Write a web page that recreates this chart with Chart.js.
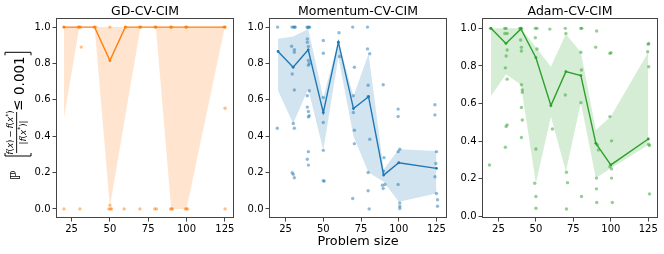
<!DOCTYPE html>
<html>
<head>
<meta charset="utf-8">
<script src="https://cdn.jsdelivr.net/npm/chart.js@4.4.0/dist/chart.umd.min.js"></script>
<style>
  body { margin: 0; background: #fff; width: 664px; height: 254px; position: relative; overflow: hidden; }
  canvas { position: absolute; top: 0; }
</style>
</head>
<body>
<canvas id="gd" style="left:0" width="240" height="254"></canvas>
<canvas id="mom" style="left:240px" width="212" height="254"></canvas>
<canvas id="adam" style="left:452px" width="212" height="254"></canvas>
<script>
// problem sizes where the mean / band is computed
const sizes = [20, 30, 40, 50, 60, 70, 80, 90, 100, 125];
const xTicks = [25, 50, 75, 100, 125];
const yTicks = [0, 0.2, 0.4, 0.6, 0.8, 1.0];

// GD-CV-CIM
const gdMean = [1, 1, 1, 0.816, 1, 1, 1, 1, 1, 1];
const gdLow  = [0.5, 1, 1, 0.01, 0.51, 1, 1, 0, 0, 1];
const gdHigh = [1, 1, 1, 1, 1, 1, 1, 1, 1, 1];
const gdPtsX = [20, 29.3, 30, 30.9, 39.6, 40.9, 50, 60.4, 69.1, 70, 79.3, 80, 89.6, 90.2, 99.3, 100, 124.3, 125.2,
                20, 30.4, 49.3, 50.4, 51, 59.3, 69.6, 79.3, 80.4, 89.6, 90.2, 90.9, 99.3, 100, 100.7, 125.2,
                31.3, 50, 125.2];
const gdPtsY = [1, 1, 1, 1, 1, 1, 1, 1, 1, 1, 1, 1, 1, 1, 1, 1, 1, 1,
                0, 0, 0, 0, 0, 0, 0, 0, 0, 0, 0, 0, 0, 0, 0, 0,
                0.89, 0.02, 0.554];

// Momentum-CV-CIM
const momMean = [0.866, 0.779, 0.875, 0.53, 0.917, 0.552, 0.617, 0.186, 0.254, 0.223];
const momLow  = [0.65, 0.47, 0.66, 0.322, 0.834, 0.40, 0.20, 0.15, 0.039, 0.085];
const momHigh = [0.936, 0.948, 0.99, 0.613, 0.926, 0.62, 0.853, 0.217, 0.328, 0.318];
const momPtsX = [19.7, 29.2, 30.3, 30.9, 31.4, 39.2, 40.3, 41, 39.8,
                 29, 30.8, 30.8, 39.4, 39.4, 40.1, 40.1, 40.7, 40.1,
                 50, 50, 60.4, 60.8, 69.5, 70.6,
                 29.4, 30.8, 39.4, 40.7, 39.4, 40.1, 40.7, 40.1,
                 50, 50, 30.1, 30.8, 19.5,
                 40.1, 39.4, 40.1, 50,
                 29.4, 30.1, 30.8, 50, 50.6,
                 69.9, 69.9, 70.6, 70.6, 69.5,
                 79.3, 79.3, 80.8, 79.7, 79.7, 80.8, 79.7, 79.7, 80.4,
                 89.7, 90.2, 89.9, 90.9, 89.2, 89.7,
                 99.6, 99.6, 99.6, 100.7, 99.6, 100.7, 100.7, 100.7,
                 124, 124, 125, 124.6, 124, 125, 125.7, 125.7];
const momPtsY = [1, 1, 1, 1, 1, 1, 1, 1, 0.997,
                 0.895, 0.875, 0.862, 0.935, 0.917, 0.893, 0.816, 0.80, 0.79,
                 0.926, 0.856, 0.969, 0.838, 1, 0.779,
                 0.742, 0.654, 0.622, 0.65, 0.56, 0.536, 0.512, 0.506,
                 0.613, 0.475, 0.47, 0.444, 0.444,
                 0.315, 0.273, 0.241, 0.322,
                 0.199, 0.19, 0.171, 0.155, 0.153,
                 0.622, 0.53, 0.433, 0.359, 0.057,
                 1, 0.88, 0.853, 0.68, 0.617, 0.383, 0.2, 0.1, 0,
                 0.683, 0.282, 0.208, 0.134, 0.13, 0.112,
                 0.549, 0.508, 0.315, 0.328, 0.134, 0.033, 0.015, 0.002,
                 0.573, 0.517, 0.315, 0.25, 0.177, 0.085, 0.05, 0.015];

// Adam-CV-CIM
const adamMean = [1, 0.92, 0.997, 0.844, 0.59, 0.77, 0.749, 0.389, 0.274, 0.412];
const adamLow  = [0.64, 0.756, 0.70, 0.177, 0.53, 0.239, 0.605, 0.204, 0.257, 0.38];
const adamHigh = [1, 1, 1, 0.90, 0.796, 0.97, 0.873, 0.46, 0.531, 0.873];
const adamPtsX = [19, 19.7, 29.2, 30.1, 29.2, 30.8, 30.8, 30.1, 29.6, 30.8,
                  30.1, 30.8, 29.6,
                  39.2, 39.8, 40.3, 39.8, 40.3, 40.3,
                  40.3, 40.9, 40.9, 40.3, 40.9, 40.3,
                  49.6, 50.7, 49.6, 50.7, 50, 49.2, 50, 50,
                  59.3, 61,
                  69.6, 70, 69.6, 70.4, 71.1, 70.4,
                  80, 80.6, 80, 80.4, 80, 80.4,
                  90.6, 89.9, 91, 91.7, 90.4, 90.4, 90.6,
                  99.4, 100.1, 99.4, 100.5, 99.4, 100.5, 100.5, 101,
                  124.9, 125.3, 124.6, 125.3, 125.3, 125.8, 125.8];
const adamPtsY = [0.274, 1, 1, 1, 0.973, 0.973, 0.885, 0.853, 0.79, 0.73,
                  0.478, 0.487, 0.368,
                  1, 1, 1, 0.938, 0.899, 0.88,
                  0.70, 0.673, 0.66, 0.579, 0.513, 0.42,
                  1, 1, 0.95, 0.89, 0.359, 0.177, 0.106, 0.044,
                  0.996, 0.465,
                  1, 0.973, 0.646, 0.235, 0.18, 0.04,
                  1, 1, 0.873, 0.779, 0.605, 0.106,
                  0.986, 0.9, 0.38, 0.354, 0.204, 0.147, 0.074,
                  0.867, 0.87, 0.531, 0.402, 0.265, 0.253, 0.204, 0.074,
                  0.915, 0.92, 0.876, 0.796, 0.384, 0.377, 0.12];

Chart.defaults.font.family = '"DejaVu Sans"';
Chart.defaults.color = '#000';

const frame = {
  id: 'frame',
  afterDraw(chart) {
    const a = chart.chartArea, ctx = chart.ctx;
    ctx.save();
    ctx.strokeStyle = '#444';
    ctx.lineWidth = 1;
    ctx.strokeRect(Math.round(a.left) + 0.5, Math.round(a.top) + 0.5,
                   Math.round(a.right - a.left) - 1, Math.round(a.bottom - a.top) - 1);
    ctx.restore();
  }
};

function drawRun(ctx, segs, cx, by, size) {
  const fonts = segs.map(s => (s.i ? 'italic ' : '') + (s.sup ? size * 0.7 : size) + 'px "DejaVu Sans"');
  let w = 0;
  const ws = segs.map((s, k) => { ctx.font = fonts[k]; const m = ctx.measureText(s.t).width; w += m; return m; });
  let x = cx - w / 2;
  segs.forEach((s, k) => {
    ctx.font = fonts[k];
    ctx.fillText(s.t, x, by - (s.sup ? size * 0.4 : 0));
    x += ws[k];
  });
}

// rotated math y-label on the first panel
const yLabel = {
  id: 'ylabel',
  afterDraw(chart) {
    const ctx = chart.ctx;
    ctx.save();
    ctx.translate(16.7, 183);
    ctx.rotate(-Math.PI / 2);
    ctx.fillStyle = '#000';
    ctx.strokeStyle = '#000';
    ctx.textBaseline = 'alphabetic';
    ctx.font = 'italic 14px "DejaVu Sans"';
    ctx.fillText('ℙ', 3, 3.3);
    ctx.lineWidth = 1;
    ctx.beginPath();
    ctx.moveTo(30, -11.7); ctx.lineTo(27, -11.7); ctx.lineTo(27, 14.3); ctx.lineTo(30, 14.3);
    ctx.stroke();
    const num = [{t: 'f', i: 1}, {t: '('}, {t: 'x', i: 1}, {t: ')'}, {t: '\u2009−\u2009'},
                 {t: 'f', i: 1}, {t: '('}, {t: 'x', i: 1}, {t: '*', sup: 1}, {t: ')'}];
    const den = [{t: '|'}, {t: 'f', i: 1}, {t: '('}, {t: 'x', i: 1}, {t: '*', sup: 1}, {t: ')'}, {t: '|'}];
    drawRun(ctx, num, 50.5, -3.5, 8.8);
    drawRun(ctx, den, 50.5, 9.3, 8.8);
    ctx.fillRect(30, -0.5, 41, 0.9);
    ctx.font = '13.5px "DejaVu Sans"';
    ctx.fillText('≤', 72, 5);
    ctx.fillText('0.001', 88, 7.3);
    ctx.beginPath();
    ctx.moveTo(127.7, -11.7); ctx.lineTo(130.7, -11.7); ctx.lineTo(130.7, 14.3); ctx.lineTo(127.7, 14.3);
    ctx.stroke();
    ctx.restore();
  }
};

function rgba(hex, a) {
  const n = parseInt(hex.slice(1), 16);
  return `rgba(${n >> 16},${(n >> 8) & 255},${n & 255},${a})`;
}

function panel(id, title, color, mean, low, high, px, py, yMin, yMax, xMin, xMax, axisW, padR, xLabel, extra) {
  const pts = arr => sizes.map((x, i) => ({x: x, y: arr[i]}));
  new Chart(document.getElementById(id), {
    type: 'scatter',
    data: {
      datasets: [
        {type: 'line', data: pts(mean), borderColor: color, borderWidth: 1.4, pointRadius: 1.4,
         pointBackgroundColor: color, pointBorderWidth: 0, tension: 0, fill: false, order: 0},
        {type: 'scatter', data: px.map((x, i) => ({x: x, y: py[i]})), backgroundColor: rgba(color, 0.5),
         borderWidth: 0, pointRadius: 1.7, order: 1},
        {type: 'line', data: pts(high), borderWidth: 0, borderColor: 'rgba(0,0,0,0)', pointRadius: 0,
         tension: 0, fill: '+1', backgroundColor: rgba(color, 0.2), order: 2},
        {type: 'line', data: pts(low), borderWidth: 0, borderColor: 'rgba(0,0,0,0)', pointRadius: 0,
         tension: 0, fill: false, order: 3}
      ]
    },
    options: {
      responsive: false,
      animation: false,
      events: [],
      layout: {padding: {left: 0, right: padR, top: 0, bottom: 0}},
      plugins: {
        legend: {display: false},
        tooltip: {enabled: false},
        title: {display: true, text: title, fullSize: false,
                font: {size: 12.5, weight: 'normal', lineHeight: 1},
                color: '#000', padding: {top: 5.5, bottom: 0}}
      },
      scales: {
        x: {
          type: 'linear', min: xMin, max: xMax,
          afterBuildTicks: s => { s.ticks = xTicks.map(v => ({value: v})); },
          ticks: {font: {size: 10}, color: '#000', padding: 1.5, maxRotation: 0},
          grid: {drawOnChartArea: false, tickLength: 3.5, color: '#444'},
          border: {display: false},
          title: {display: xLabel, text: 'Problem size', font: {size: 12.8}, color: '#000',
                  padding: {top: 0, bottom: 4.6}},
          afterFit: s => { s.height = 36; s.paddingLeft = 0; s.paddingRight = 0; }
        },
        y: {
          min: yMin, max: yMax,
          afterBuildTicks: s => { s.ticks = yTicks.map(v => ({value: v})); },
          ticks: {font: {size: 10}, color: '#000', padding: 2, callback: v => v.toFixed(1)},
          grid: {drawOnChartArea: false, tickLength: 3.5, color: '#444'},
          border: {display: false},
          afterFit: s => { s.width = axisW; s.paddingTop = 0; s.paddingBottom = 0; }
        }
      }
    },
    plugins: [frame].concat(extra)
  });
}

panel('gd', 'GD-CV-CIM', '#ff7f0e', gdMean, gdLow, gdHigh, gdPtsX, gdPtsY,
      -0.05, 1.05, 14.8, 131, 56, 6, false, [yLabel]);
panel('mom', 'Momentum-CV-CIM', '#1f77b4', momMean, momLow, momHigh, momPtsX, momPtsY,
      -0.05, 1.05, 14, 132, 29, 5, true, []);
panel('adam', 'Adam-CV-CIM', '#2ca02c', adamMean, adamLow, adamHigh, adamPtsX, adamPtsY,
      -0.008, 1.055, 14, 131.5, 30, 6, false, []);
</script>
</body>
</html>
